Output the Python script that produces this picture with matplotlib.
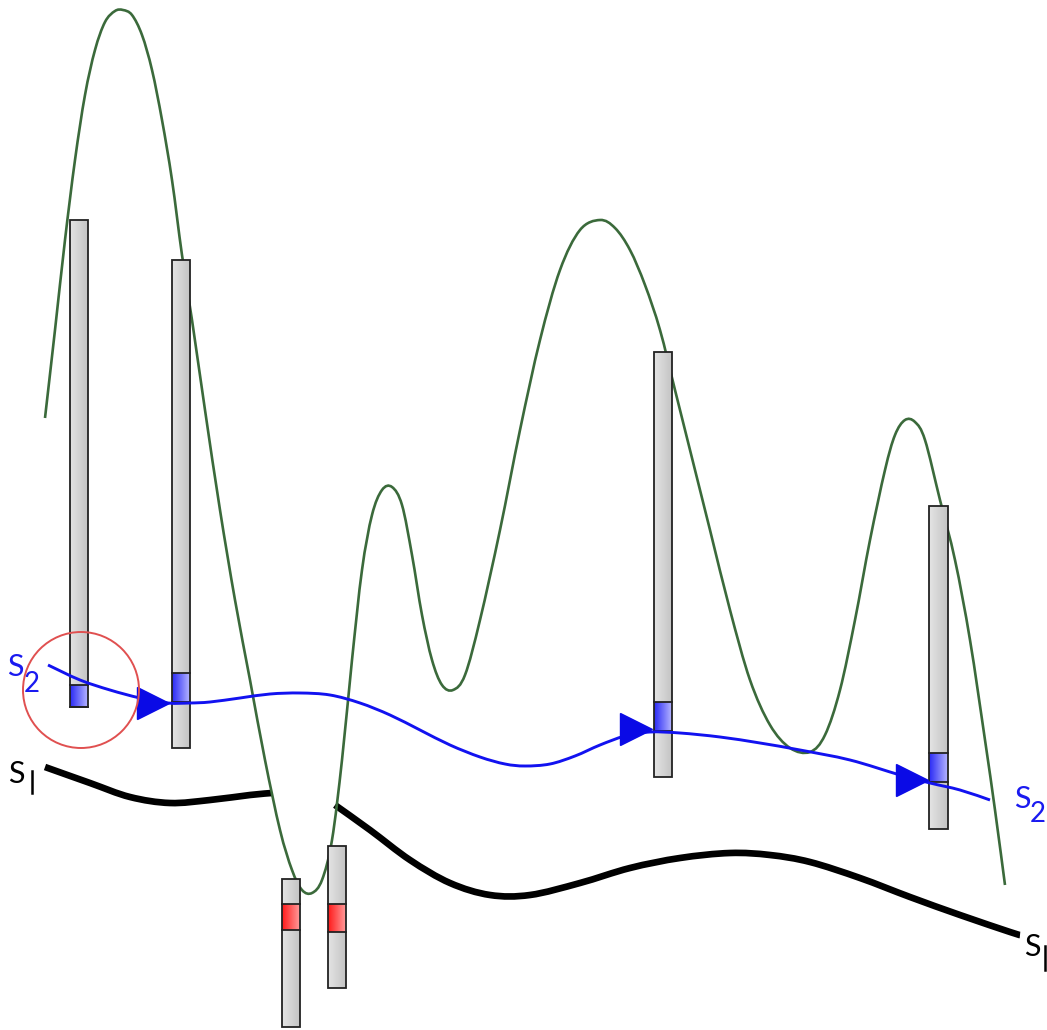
import numpy as np
import matplotlib.pyplot as plt
from matplotlib.colors import LinearSegmentedColormap
from matplotlib.patches import Rectangle, Circle, PathPatch
from matplotlib.path import Path

# --- data (pixel coordinates, y grows downward) ---
green_x = [45, 55, 65, 75, 85, 95, 105, 115, 123, 132, 142, 152, 162, 172, 182, 192, 205, 220, 235, 250,
           265, 280, 292, 302, 312, 322, 332, 342, 352, 362, 372, 382, 392, 402, 412, 422, 432, 442, 453,
           465, 480, 500, 520, 540, 560, 580, 600, 615, 630, 645, 660, 675, 690, 710, 730, 750, 770, 790,
           810, 825, 840, 855, 870, 885, 895, 905, 915, 925, 940, 955, 970, 985, 995, 1005]
green_y = [418, 330, 240, 160, 95, 50, 22, 11, 10, 15, 35, 70, 120, 180, 255, 320, 410, 510, 600, 680,
           760, 830, 870, 890, 893, 880, 840, 760, 660, 570, 515, 490, 487, 505, 555, 615, 660, 685, 690,
           675, 620, 530, 430, 340, 270, 230, 220, 228, 250, 285, 330, 390, 450, 530, 610, 680, 725, 748,
           752, 735, 690, 620, 540, 470, 435, 420, 422, 440, 500, 560, 640, 740, 810, 885]

blue_x = [48, 80, 110, 140, 168, 190, 210, 240, 270, 300, 330, 360, 390, 420, 450, 480, 505, 525, 550,
          575, 600, 625, 650, 680, 720, 760, 800, 850, 900, 930, 960, 990]
blue_y = [665, 680, 690, 698, 703, 703, 702, 698, 694, 693, 695, 703, 715, 730, 745, 757, 764, 766, 764,
          756, 745, 736, 732, 733, 737, 743, 750, 760, 775, 783, 790, 800]

# black line, drawn in two pieces (gap where it meets the green valley)
black1_x = [45, 90, 130, 170, 210, 250, 272]
black1_y = [767, 783, 797, 803, 800, 795, 793]
black2_x = [335, 370, 410, 450, 490, 530, 580, 630, 680, 730, 770, 810, 860, 910, 960, 1010, 1020]
black2_y = [805, 830, 860, 883, 895, 895, 883, 868, 858, 853, 855, 862, 878, 897, 915, 932, 935]

# bars: left, right, top, bottom, marked segment top/bottom, marker kind
bar_left = [70, 172, 654, 929, 282, 328]
bar_right = [88, 190, 672, 948, 300, 346]
bar_top = [220, 260, 352, 506, 879, 846]
bar_bottom = [707, 748, 777, 829, 1027, 988]
seg_top = [685, 673, 702, 753, 904, 904]
seg_bottom = [707, 702, 731, 782, 930, 932]
seg_kind = ['blue', 'blue', 'blue', 'blue', 'red', 'red']

arrow_x = [153, 636, 912]
arrow_y = [703, 729, 780]


def smooth_path(xs, ys):
    # bezier path through the points (Catmull-Rom style handles)
    p = np.column_stack([xs, ys]).astype(float)
    verts = [p[0]]
    codes = [Path.MOVETO]
    for i in range(len(p) - 1):
        p0 = p[max(i - 1, 0)]
        p3 = p[min(i + 2, len(p) - 1)]
        c1 = p[i] + (p[i + 1] - p0) / 6
        c2 = p[i + 1] - (p3 - p[i]) / 6
        verts += [c1, c2, p[i + 1]]
        codes += [Path.CURVE4] * 3
    return Path(verts, codes)


def draw_curve(ax, xs, ys, **kw):
    ax.add_patch(PathPatch(smooth_path(xs, ys), fill=False, **kw))


fig = plt.figure(figsize=(10.47, 10.30), dpi=100)
ax = fig.add_axes([0, 0, 1, 1])

grad = np.linspace(0, 1, 50).reshape(1, -1)
cmaps = {
    'gray': LinearSegmentedColormap.from_list('g', ['#e4e4e4', '#c4c4c4']),
    'blue': LinearSegmentedColormap.from_list('b', ['#2a2af5', '#b4b4ff']),
    'red': LinearSegmentedColormap.from_list('r', ['#ff1a1a', '#ff9a9a']),
}

draw_curve(ax, black1_x, black1_y, edgecolor='black', lw=4.8, capstyle='butt', zorder=1)
draw_curve(ax, black2_x, black2_y, edgecolor='black', lw=4.8, capstyle='butt', zorder=1)
draw_curve(ax, green_x, green_y, edgecolor='#3b6a3b', lw=1.9, zorder=2)

for i in range(len(bar_left)):
    l, r = bar_left[i], bar_right[i]
    ax.imshow(grad, extent=(l, r, bar_bottom[i], bar_top[i]), cmap=cmaps['gray'],
              aspect='auto', zorder=3)
    ax.imshow(grad, extent=(l, r, seg_bottom[i], seg_top[i]), cmap=cmaps[seg_kind[i]],
              aspect='auto', zorder=3.1)
    ax.plot([l, r], [seg_top[i], seg_top[i]], color='#222222', lw=1.3, zorder=3.2)
    ax.plot([l, r], [seg_bottom[i], seg_bottom[i]], color='#222222', lw=1.3, zorder=3.2)
    ax.add_patch(Rectangle((l, bar_top[i]), r - l, bar_bottom[i] - bar_top[i],
                           fill=False, edgecolor='#222222', lw=1.3, zorder=3.3))

draw_curve(ax, blue_x, blue_y, edgecolor='#1212f0', lw=2.1, zorder=4)
ax.plot(arrow_x, arrow_y, ls='none', marker='>', ms=23, color='#0a0ae6', zorder=5)

ax.add_patch(Circle((81, 690), 58, fill=False, edgecolor='#e05050', lw=1.4, zorder=6))

fnt = 'Lato'
ax.text(7, 676, 'S', color='#1a1af0', fontsize=22, family=fnt, va='baseline')
ax.text(24, 692, '2', color='#1a1af0', fontsize=20, family=fnt, va='baseline')
ax.text(1014, 808, 'S', color='#1a1af0', fontsize=22, family=fnt, va='baseline')
ax.text(1030, 822, '2', color='#1a1af0', fontsize=20, family=fnt, va='baseline')
ax.text(8, 783, 'S', color='black', fontsize=22, family=fnt, va='baseline')
ax.plot([32, 32], [771, 793], color='black', lw=1.8)
ax.text(1024, 956, 'S', color='black', fontsize=22, family=fnt, va='baseline')
ax.plot([1045, 1045], [946, 970], color='black', lw=1.8)

ax.set_xlim(0, 1047)
ax.set_ylim(1030, 0)
ax.axis('off')

fig.savefig('out.png', dpi=100)
